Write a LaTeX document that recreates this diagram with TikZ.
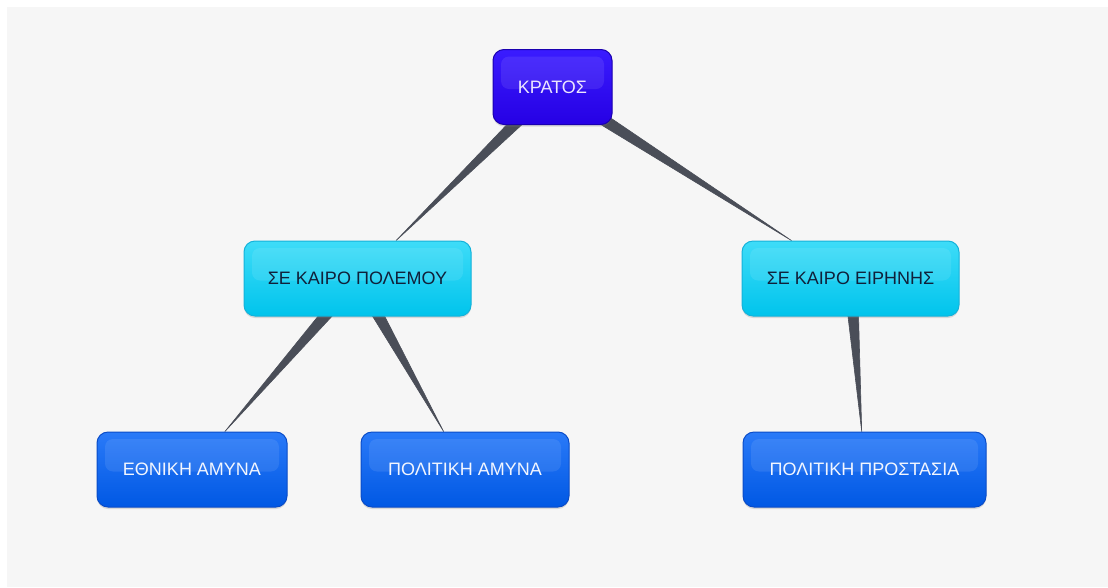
\documentclass[tikz,border=0pt]{standalone}
\usepackage{fontspec}
\setmainfont{Liberation Sans}
\usetikzlibrary{shadows,calc}
\definecolor{bgpanel}{HTML}{F6F6F6}
\definecolor{wedgecol}{HTML}{4A4E58}
\definecolor{krtop}{HTML}{3A1CFF}
\definecolor{krbot}{HTML}{2600E4}
\definecolor{krline}{HTML}{1A00B0}
\definecolor{krtext}{HTML}{ECE6FF}
\definecolor{cytop}{HTML}{3EDCF8}
\definecolor{cybot}{HTML}{00C4EC}
\definecolor{cyline}{HTML}{14B2DA}
\definecolor{cytext}{HTML}{10203A}
\definecolor{bltop}{HTML}{2A7AF8}
\definecolor{blbot}{HTML}{0058E4}
\definecolor{blline}{HTML}{0A4CC8}
\definecolor{bltext}{HTML}{F2F6FF}
\pgfdeclarelayer{bottom}
\pgfdeclarelayer{background}
\pgfsetlayers{bottom,background,main}
\tikzset{
  box/.style={rounded corners=11pt, minimum height=75pt, inner sep=0pt,
    font=\fontsize{18}{21}\selectfont, line width=1pt,
    drop shadow={opacity=0.25, shadow xshift=0pt, shadow yshift=-2pt},
    path picture={\fill[white,opacity=0.09,rounded corners=8pt]
      ([xshift=8pt,yshift=-7pt]path picture bounding box.north west)
      rectangle ([xshift=-8pt,yshift=-2pt]path picture bounding box.east);}},
  krbox/.style={box, draw=krline, top color=krtop, bottom color=krbot, text=krtext},
  cybox/.style={box, draw=cyline, top color=cytop, bottom color=cybot, text=cytext},
  blbox/.style={box, draw=blline, top color=bltop, bottom color=blbot, text=bltext},
  conn/.style={fill=wedgecol, draw=wedgecol, line width=0.6pt, line join=round}
}
\newcommand\taper[2]{%
  \path (#1) -- (#2) coordinate[pos=1] (t-#1-#2);
  \begin{pgfonlayer}{background}
  \filldraw[conn] ($(#1)!7pt!90:(t-#1-#2)$) -- (t-#1-#2) -- ($(#1)!7pt!-90:(t-#1-#2)$) -- cycle;
  \end{pgfonlayer}}
\begin{document}
\begin{tikzpicture}[x=1pt,y=-1pt]
\useasboundingbox (0,0) rectangle (1108,587);
\begin{pgfonlayer}{bottom}
\fill[bgpanel] (7,7) rectangle (1108,587);
\end{pgfonlayer}
\node[krbox, minimum width=119pt] (kr) at (552.5,87) {ΚΡΑΤΟΣ};
\node[cybox, minimum width=227pt] (pol) at (357.5,278.5) {ΣΕ ΚΑΙΡΟ ΠΟΛΕΜΟΥ};
\node[cybox, minimum width=217pt] (eir) at (850.5,278.5) {ΣΕ ΚΑΙΡΟ ΕΙΡΗΝΗΣ};
\node[blbox, minimum width=190pt] (eth) at (192,469.5) {ΕΘΝΙΚΗ ΑΜΥΝΑ};
\node[blbox, minimum width=208pt] (pam) at (465,469.5) {ΠΟΛΙΤΙΚΗ ΑΜΥΝΑ};
\node[blbox, minimum width=243pt] (pro) at (864.5,469.5) {ΠΟΛΙΤΙΚΗ ΠΡΟΣΤΑΣΙΑ};
\taper{kr}{pol}
\taper{kr}{eir}
\taper{pol}{eth}
\taper{pol}{pam}
\taper{eir}{pro}
\end{tikzpicture}
\end{document}
